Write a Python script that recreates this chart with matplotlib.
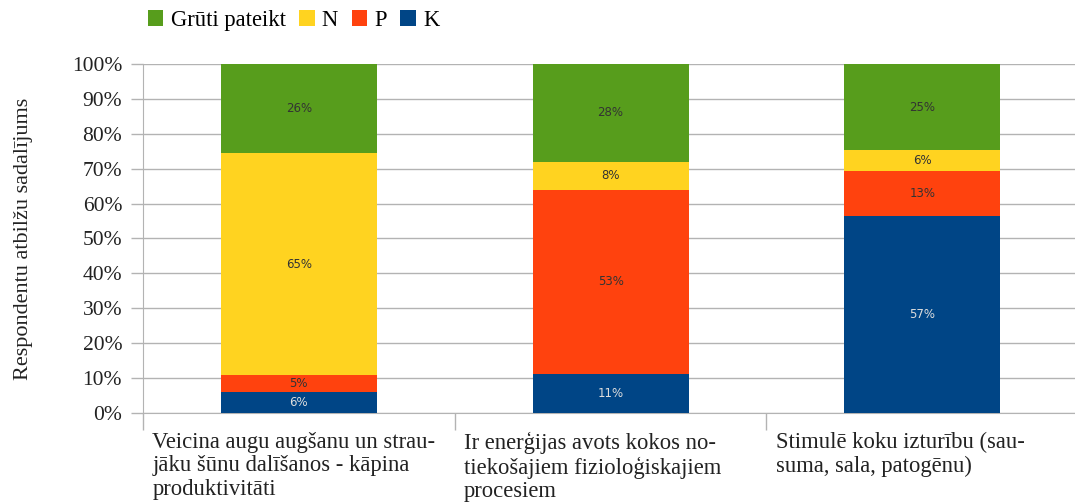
import matplotlib
matplotlib.use("Agg")
from matplotlib import pyplot as plt
from matplotlib import transforms
import numpy as np

# answer shares shown in each bar (percent, as labelled)
categories = [
    "Veicina augu augšanu un strau-\njāku šūnu dalīšanos - kāpina\nproduktivitāti",
    "Ir enerģijas avots kokos no-\ntiekošajiem fizioloģiskajiem\nprocesiem",
    "Stimulē koku izturību (sau-\nsuma, sala, patogēnu)",
]
series_names = ["K", "P", "N", "Grūti pateikt"]
k_vals = [6, 11, 57]
p_vals = [5, 53, 13]
n_vals = [65, 8, 6]
g_vals = [26, 28, 25]
y_ticks = [0, 10, 20, 30, 40, 50, 60, 70, 80, 90, 100]

colors = ["#004586", "#ff420e", "#ffd320", "#579d1c"]
label_colors = ["#dddddd", "#333333", "#333333", "#333333"]

serif = "Liberation Serif"

data = np.array([k_vals, p_vals, n_vals, g_vals], dtype=float)
shares = data / data.sum(axis=0) * 100

fig = plt.figure(figsize=(10.75, 5.04), dpi=100)
ax = fig.add_axes([0.133, 0.181, 0.87, 0.692])

x = np.arange(len(categories))
bottom = np.zeros(len(categories))
handles = []
for i, name in enumerate(series_names):
    h = ax.bar(x, shares[i], bottom=bottom, width=0.5, color=colors[i],
               label=name, zorder=3)
    handles.append(h)
    for j in range(len(categories)):
        ax.text(x[j], bottom[j] + shares[i][j] / 2, "%d%%" % data[i][j],
                ha="center", va="center", fontsize=8.5, color=label_colors[i],
                family="DejaVu Sans", zorder=4)
    bottom += shares[i]

ax.set_xlim(-0.5, 2.5)
ax.set_ylim(0, 100)
ax.set_yticks(y_ticks)
ax.set_yticklabels(["%d%%" % v for v in y_ticks], family=serif, fontsize=15.5,
                   color="#222222")
ax.yaxis.grid(True, color="#b3b3b3", lw=1, zorder=0)
ax.tick_params(axis="y", length=9, color="#b3b3b3", width=1, pad=6)

# category separators below the axis
ax.set_xticks([-0.5, 0.5, 1.5, 2.5])
ax.set_xticklabels([])
ax.tick_params(axis="x", length=12, color="#b3b3b3", width=1)

for s in ["top", "right"]:
    ax.spines[s].set_visible(False)
ax.spines["left"].set_color("#b3b3b3")
ax.spines["bottom"].set_color("#b3b3b3")

trans = transforms.blended_transform_factory(ax.transData, ax.transAxes)
for j, cat in enumerate(categories):
    ax.text(j - 0.47, -0.055, cat, transform=trans, ha="left", va="top",
            family=serif, fontsize=16.3, color="#222222", linespacing=1.15)

ax.set_ylabel("Respondentu atbilžu sadalījums", family=serif, fontsize=16,
              color="#222222", labelpad=28)

leg_handles = handles[::-1]
fig.legend(leg_handles, [h.get_label() for h in leg_handles], loc="center left",
           bbox_to_anchor=(0.1377, 0.96), ncol=4, frameon=False, borderpad=0,
           borderaxespad=0, prop={"family": serif, "size": 16.3},
           handlelength=0.68, handleheight=0.68, handletextpad=0.32,
           columnspacing=0.6)

fig.savefig("out.png", dpi=100)
